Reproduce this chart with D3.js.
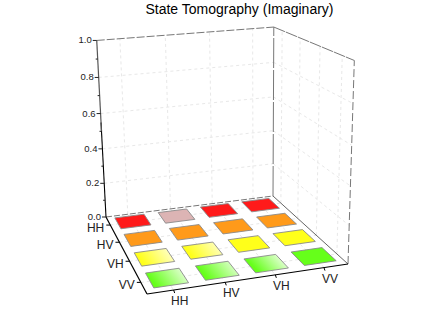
<!DOCTYPE html>
<html><head><meta charset="utf-8">
<script src="https://cdnjs.cloudflare.com/ajax/libs/d3/7.8.5/d3.min.js"></script>
<style>html,body{margin:0;padding:0;background:#fff}svg{display:block}text{font-family:"Liberation Sans",Arial,sans-serif}</style>
</head><body><div id="c"></div>
<script>
const title = "State Tomography (Imaginary)";
const rowNames = ["HH","HV","VH","VV"];
const colNames = ["HH","HV","VH","VV"];
const zTicks = [0,0.2,0.4,0.6,0.8,1.0];
// imaginary parts: all bars are almost flat
const values = [
  [0.005,0.004,0.005,0.005],
  [0.005,0.005,0.005,0.005],
  [0.004,0.004,0.005,0.005],
  [0.004,0.004,0.004,0.005]
];
const baseColors = [
  ["#ff1a1a","#dcb4b4","#ff1a1a","#ff1a1a"],
  ["#ff9a1a","#ff9a1a","#ff9a1a","#ff9a1a"],
  ["#ffff1a","#ffff1a","#ffff1a","#ffff1a"],
  ["#66ff1a","#66ff1a","#66ff1a","#66ff1a"]
];
const fade = [
  [0,0,0,0],
  [0,0,0,0],
  [0.7,0.65,0,0],
  [0.75,0.7,0.75,0]
];

const W=436,H=319;
const svg=d3.select("#c").append("svg").attr("width",W).attr("height",H);
const defs=svg.append("defs");

function solve(A,b){
  const n=A.length,M=A.map((r,i)=>[...r,b[i]]);
  for(let i=0;i<n;i++){
    let p=i;for(let k=i+1;k<n;k++)if(Math.abs(M[k][i])>Math.abs(M[p][i]))p=k;
    [M[i],M[p]]=[M[p],M[i]];
    for(let k=0;k<n;k++){if(k===i)continue;const f=M[k][i]/M[i][i];for(let j=i;j<=n;j++)M[k][j]-=f*M[i][j];}
  }
  return M.map((r,i)=>r[n]/r[i]);
}
// camera fitted to the box corners
const floorPts=[[0,0,106,217],[4,0,273,196],[4,4,348,264],[0,4,147,294]];
const topPts=[[0,0,97,39],[4,0,273,28],[4,4,355,61]];
const A8=[],b8=[];
floorPts.forEach(([x,y,u,v])=>{
  A8.push([x,y,1,0,0,0,-u*x,-u*y]);b8.push(u);
  A8.push([0,0,0,x,y,1,-v*x,-v*y]);b8.push(v);
});
const h=solve(A8,b8);
const rowsZ=[];const rhs=[];
topPts.forEach(([x,y,u,v])=>{
  const w=h[6]*x+h[7]*y+1;
  rowsZ.push([1,0,-u]);rhs.push(u*w-(h[0]*x+h[1]*y+h[2]));
  rowsZ.push([0,1,-v]);rhs.push(v*w-(h[3]*x+h[4]*y+h[5]));
});
const AtA=[0,1,2].map(i=>[0,1,2].map(j=>d3.sum(rowsZ,r=>r[i]*r[j])));
const Atb=[0,1,2].map(i=>d3.sum(rowsZ,(r,k)=>r[i]*rhs[k]));
const [pa,pb,pc]=solve(AtA,Atb);
function proj(x,y,z){
  const w=h[6]*x+h[7]*y+pc*z+1;
  return [(h[0]*x+h[1]*y+pa*z+h[2])/w,(h[3]*x+h[4]*y+pb*z+h[5])/w];
}

const xBand=d3.scaleBand().domain(colNames).range([0,4]).paddingInner(0.33).paddingOuter(0.17);
const yBand=d3.scaleBand().domain(rowNames).range([0,4]).paddingInner(0.33).paddingOuter(0.17);
const zS=d3.scaleLinear().domain([0,1]).range([0,1]);
const xG=d3.scaleLinear().domain([0,4]).range([0,4]);

function seg(a,b,color,dash,width){
  const p=proj(...a),q=proj(...b);
  svg.append("line").attr("x1",p[0]).attr("y1",p[1]).attr("x2",q[0]).attr("y2",q[1])
    .attr("stroke",color).attr("stroke-width",width||1).attr("stroke-dasharray",dash||null);
}
const gridC="#e8e8e8",gridD="3 3";
// wall + floor grid
const gridPos=colNames.map((c,i)=>i+0.5);
gridPos.forEach(g=>{
  seg([xG(g),0,0],[xG(g),0,1],gridC,gridD);
  seg([4,xG(g),0],[4,xG(g),1],gridC,gridD);
  seg([xG(g),0,0],[xG(g),4,0],gridC,gridD);
  seg([0,xG(g),0],[4,xG(g),0],gridC,gridD);
});
zTicks.slice(1,-1).forEach(t=>{
  seg([0,0,zS(t)],[4,0,zS(t)],gridC,gridD);
  seg([4,0,zS(t)],[4,4,zS(t)],gridC,gridD);
});
// frame
const frameC="#777";
seg([0,0,1],[4,0,1],frameC,"8 2");
seg([4,0,1],[4,4,1],frameC,"12 1");
seg([4,0,0],[4,0,1],frameC,"30 2");
seg([4,4,0],[4,4,1],frameC,"8 3");
seg([0,0,0],[4,0,0],frameC,"6 2");
seg([4,0,0],[4,4,0],"#666");

// bars
rowNames.forEach((r,ri)=>colNames.forEach((c,ci)=>{
  const x0=xBand(c),x1=x0+xBand.bandwidth(),y0=yBand(r),y1=y0+yBand.bandwidth();
  const z=zS(values[ri][ci]);
  const corners=[[x0,y0],[x1,y0],[x1,y1],[x0,y1]].map(p=>proj(p[0],p[1],z));
  let fill=baseColors[ri][ci];
  if(fade[ri][ci]>0){
    const id=`g${ri}${ci}`;
    const pale=d3.interpolateRgb(fill,"#ffffff")(fade[ri][ci]);
    const s=corners[3],e=corners[1];
    const g=defs.append("linearGradient").attr("id",id).attr("gradientUnits","userSpaceOnUse")
      .attr("x1",s[0]).attr("y1",s[1]).attr("x2",e[0]).attr("y2",e[1]);
    g.append("stop").attr("offset",0.1).attr("stop-color",fill);
    g.append("stop").attr("offset",1).attr("stop-color",pale);
    fill=`url(#${id})`;
  }
  svg.append("polygon").attr("points",corners.map(p=>p.join(",")).join(" "))
    .attr("fill",fill).attr("stroke","#8a8a8a").attr("stroke-width",0.9);
}));

// axes
seg([0,0,0],[0,0,0.55],"#000",null,1.1);
seg([0,0,0.5],[0,0,1],"#555",null,1.2);
seg([0,0,0],[0,4,0],"#000",null,1.2);
seg([0,4,0],[4,4,0],"#000",null,1.2);

d3.range(0,11).forEach(i=>{
  const t=i/10,p=proj(0,0,zS(t));
  const major=i%2===0;
  svg.append("line").attr("x1",p[0]-(major?4:2)).attr("y1",p[1]).attr("x2",p[0]).attr("y2",p[1])
    .attr("stroke","#222").attr("stroke-width",1);
});
svg.append("g").selectAll("text").data(zTicks).join("text")
  .attr("x",t=>proj(0,0,zS(t))[0]-5).attr("y",t=>proj(0,0,zS(t))[1]+3)
  .attr("text-anchor","end").attr("font-size",9.5).attr("fill","#222")
  .text(t=>t.toFixed(1));

rowNames.forEach((r,i)=>{
  const yc=yBand(r)+yBand.bandwidth()/2,p=proj(0,yc,0);
  svg.append("line").attr("x1",p[0]-4).attr("y1",p[1]).attr("x2",p[0]).attr("y2",p[1]).attr("stroke","#000");
  svg.append("text").attr("x",p[0]-6).attr("y",p[1]+6.5).attr("text-anchor","end")
    .attr("font-size",12).attr("fill","#222").text(r);
});
colNames.forEach((c,i)=>{
  const xc=xBand(c)+xBand.bandwidth()/2,p=proj(xc,4,0);
  svg.append("line").attr("x1",p[0]).attr("y1",p[1]).attr("x2",p[0]+1).attr("y2",p[1]+3).attr("stroke","#000");
  svg.append("text").attr("x",p[0]+6).attr("y",p[1]+15).attr("text-anchor","middle")
    .attr("font-size",12).attr("fill","#222").text(c);
});

svg.append("text").attr("x",239.5).attr("y",14).attr("text-anchor","middle")
  .attr("font-size",14).attr("fill","#000").text(title);
</script></body></html>
